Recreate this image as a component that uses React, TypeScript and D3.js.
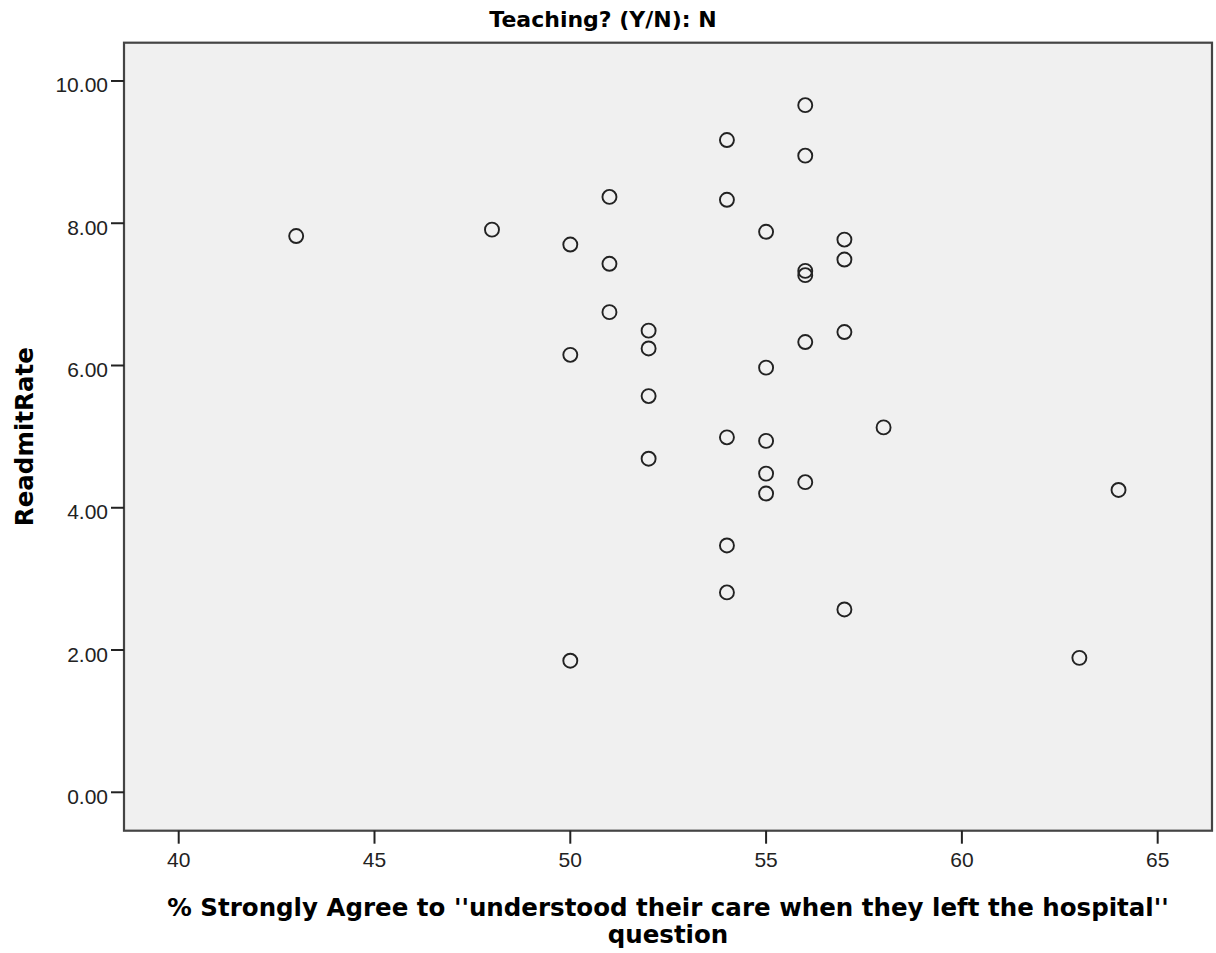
import React from "react";
import * as d3 from "d3";

const xValues: number[] = [
  43, 48,
  50, 50, 50,
  51, 51, 51,
  52, 52, 52, 52,
  54, 54, 54, 54, 54,
  55, 55, 55, 55, 55,
  56, 56, 56, 56, 56, 56,
  57, 57, 57, 57,
  58, 63, 64,
];
const yValues: number[] = [
  7.82, 7.91,
  7.70, 6.15, 1.85,
  8.37, 7.43, 6.75,
  6.49, 6.24, 5.57, 4.69,
  9.17, 8.33, 4.99, 3.47, 2.81,
  7.88, 5.97, 4.94, 4.48, 4.20,
  9.66, 8.95, 7.33, 7.27, 6.33, 4.36,
  7.77, 7.49, 6.47, 2.57,
  5.13, 1.89, 4.25,
];
const xTicks: number[] = [40, 45, 50, 55, 60, 65];
const yTicks: number[] = [0, 2, 4, 6, 8, 10];

const titleText = "Teaching? (Y/N): N";
const xLabelLine1 = "% Strongly Agree to ''understood their care when they left the hospital''";
const xLabelLine2 = "question";
const yLabel = "ReadmitRate";

const W = 1216;
const H = 953;
const left = 124;
const right = 1212;
const top = 42.7;
const bottom = 830.7;

export default function App() {
  const x = d3.scaleLinear().domain([38.603, 66.387]).range([left, right]);
  const y = d3.scaleLinear().domain([-0.54, 10.538]).range([bottom, top]);
  const bold = "'DejaVu Sans', Verdana, sans-serif";
  const reg = "'Liberation Sans', Arial, sans-serif";
  const fmt = d3.format(".2f");
  return (
    <svg
      width={W}
      height={H}
      style={{ position: "absolute", left: 0, top: 0, background: "#fff" }}
    >
      <rect x={0} y={0} width={W} height={H} fill="#ffffff" />
      <text
        x={603}
        y={27}
        textAnchor="middle"
        fontFamily={bold}
        fontWeight="bold"
        fontSize={22}
        fill="#000"
      >
        {titleText}
      </text>
      <rect
        x={left}
        y={top}
        width={right - left}
        height={bottom - top}
        fill="#f0f0f0"
        stroke="#444"
        strokeWidth={2.2}
      />
      {yTicks.map((t) => (
        <g key={"y" + t}>
          <line x1={left - 13} x2={left} y1={y(t)} y2={y(t)} stroke="#222" strokeWidth={2} />
          <text
            x={108}
            y={y(t) + 11.5}
            textAnchor="end"
            fontFamily={reg}
            fontSize={21}
            fill="#222"
          >
            {fmt(t)}
          </text>
        </g>
      ))}
      {xTicks.map((t) => (
        <g key={"x" + t}>
          <line x1={x(t)} x2={x(t)} y1={bottom} y2={bottom + 13} stroke="#222" strokeWidth={2} />
          <text
            x={x(t)}
            y={867}
            textAnchor="middle"
            fontFamily={reg}
            fontSize={21}
            fill="#222"
          >
            {t}
          </text>
        </g>
      ))}
      {xValues.map((v, i) => (
        <circle
          key={"p" + i}
          cx={x(v)}
          cy={y(yValues[i])}
          r={7}
          fill="none"
          stroke="#222"
          strokeWidth={1.9}
        />
      ))}
      <text
        x={(left + right) / 2}
        y={916}
        textAnchor="middle"
        fontFamily={bold}
        fontWeight="bold"
        fontSize={24.5}
        fill="#000"
      >
        {xLabelLine1}
      </text>
      <text
        x={(left + right) / 2}
        y={943}
        textAnchor="middle"
        fontFamily={bold}
        fontWeight="bold"
        fontSize={24.5}
        fill="#000"
      >
        {xLabelLine2}
      </text>
      <text
        transform={`translate(33, ${(top + bottom) / 2}) rotate(-90)`}
        textAnchor="middle"
        fontFamily={bold}
        fontWeight="bold"
        fontSize={24.5}
        fill="#000"
      >
        {yLabel}
      </text>
    </svg>
  );
}
